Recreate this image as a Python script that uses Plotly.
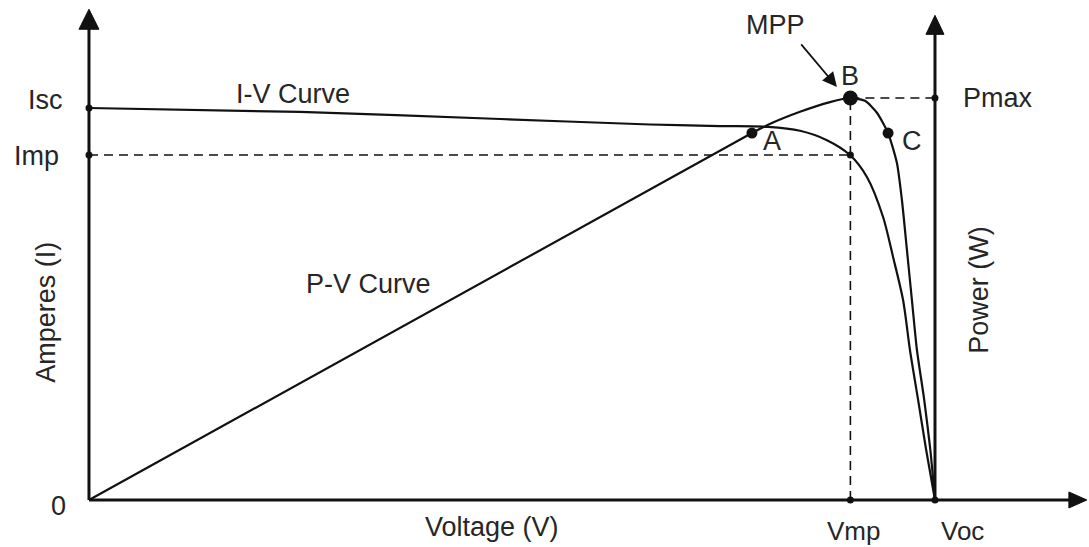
import plotly.graph_objects as go

# ---------------- data (arbitrary schematic units) ----------------
VOC = 22.0      # open-circuit voltage
VMP = 19.8      # voltage at max power
ISC = 5.0       # short-circuit current
IMP = 4.40      # current at max power
PMAX = 87.1     # max power

# I-V curve (voltage, current)
iv_v = [0.0, 5.49, 10.69, 14.59, 16.41, 17.66, 18.49, 19.19, 19.79, 20.23, 20.65, 20.91, 21.17, 21.35, 21.56, 21.77, 22.0]
iv_i = [5.00, 4.95, 4.86, 4.79, 4.77, 4.76, 4.71, 4.59, 4.40, 4.12, 3.61, 3.10, 2.55, 1.91, 1.28, 0.64, 0.0]

# P-V curve (voltage, power)
pv_v = [0.0, 17.24, 17.66, 18.49, 19.27, 19.79, 20.18, 20.49, 20.78, 21.01, 21.14, 21.27, 21.40, 21.53, 21.72, 21.88, 22.0]
pv_p = [0.0, 79.5, 81.3, 84.1, 86.2, 87.1, 86.5, 83.9, 79.5, 73.0, 65.0, 54.2, 43.3, 32.5, 21.7, 10.8, 0.0]

# labelled operating points on the P-V curve
pt_names = ["A", "B", "C"]
pt_v = [17.24, VMP, 20.78]
pt_p = [79.5, PMAX, 79.5]

# axis extents (arrow tips)
X_RANGE = [-2.314, 26.005]
I_RANGE = [-0.600, 6.378]
P_RANGE = [-10.18, 108.33]
I_AXIS_TIP = 6.26
P_AXIS_TIP = 105.0
V_AXIS_TIP = 25.95

INK = "#111111"
TXT = "#262626"
FONT = "Liberation Sans, Arial, sans-serif"
FS = 27

fig = go.Figure()

dash = dict(color=INK, width=1.6, dash="9px,6px")
# dashed guide lines
fig.add_trace(go.Scatter(x=[0, VMP], y=[IMP, IMP], mode="lines", line=dash, yaxis="y", hoverinfo="skip"))
fig.add_trace(go.Scatter(x=[VMP, VMP], y=[0, PMAX], mode="lines", line=dash, yaxis="y2", hoverinfo="skip"))
fig.add_trace(go.Scatter(x=[VMP, VOC], y=[PMAX, PMAX], mode="lines", line=dash, yaxis="y2", hoverinfo="skip"))

# axes lines
fig.add_trace(go.Scatter(x=[0, 0], y=[0, I_AXIS_TIP - 0.2], mode="lines",
                         line=dict(color=INK, width=3), yaxis="y", hoverinfo="skip"))
fig.add_trace(go.Scatter(x=[0, V_AXIS_TIP - 0.4], y=[0, 0], mode="lines",
                         line=dict(color=INK, width=3), yaxis="y", hoverinfo="skip"))
fig.add_trace(go.Scatter(x=[VOC, VOC], y=[0, P_AXIS_TIP - 3], mode="lines",
                         line=dict(color=INK, width=3), yaxis="y2", hoverinfo="skip"))

# curves
fig.add_trace(go.Scatter(x=iv_v, y=iv_i, mode="lines", name="I-V Curve",
                         line=dict(color=INK, width=2.2, shape="spline", smoothing=0.8), yaxis="y"))
fig.add_trace(go.Scatter(x=pv_v, y=pv_p, mode="lines", name="P-V Curve",
                         line=dict(color=INK, width=2.2, shape="spline", smoothing=0.6), yaxis="y2"))

# small dots
fig.add_trace(go.Scatter(x=[0, 0, VMP, VMP, VOC], y=[ISC, IMP, IMP, 0, 0], mode="markers",
                         marker=dict(color=INK, size=7, opacity=1, line=dict(width=0)),
                         yaxis="y", hoverinfo="skip"))
fig.add_trace(go.Scatter(x=[VOC], y=[PMAX], mode="markers",
                         marker=dict(color=INK, size=7, opacity=1, line=dict(width=0)),
                         yaxis="y2", hoverinfo="skip"))
# A, B, C points
fig.add_trace(go.Scatter(x=pt_v, y=pt_p, mode="markers", text=pt_names,
                         marker=dict(color=INK, size=[11, 15, 11], opacity=1, line=dict(width=0)),
                         yaxis="y2"))

shapes = []
# arrowheads (pixel-sized paths anchored at the axis tips)
shapes.append(dict(type="path", xref="x", yref="y", xsizemode="pixel", ysizemode="pixel",
                   xanchor=0, yanchor=I_AXIS_TIP, path="M -10,-20 L 10,-20 L 0,0 Z",
                   fillcolor=INK, line=dict(color=INK, width=1)))
shapes.append(dict(type="path", xref="x", yref="y2", xsizemode="pixel", ysizemode="pixel",
                   xanchor=VOC, yanchor=P_AXIS_TIP, path="M -9,-19 L 9,-19 L 0,0 Z",
                   fillcolor=INK, line=dict(color=INK, width=1)))
shapes.append(dict(type="path", xref="x", yref="y", xsizemode="pixel", ysizemode="pixel",
                   xanchor=V_AXIS_TIP, yanchor=0, path="M 0,0 L -18,-8 L -18,8 Z",
                   fillcolor=INK, line=dict(color=INK, width=1)))

ann = []
def lab(text, x, y, yref="y", xanchor="center", xshift=0, yshift=0, angle=0, size=FS):
    ann.append(dict(text=text, x=x, y=y, xref="x", yref=yref, showarrow=False,
                    xanchor=xanchor, yanchor="middle", xshift=xshift, yshift=yshift,
                    textangle=angle, font=dict(family=FONT, size=size, color=TXT)))

lab("Isc", 0, ISC, xanchor="right", xshift=-24, yshift=8)
lab("Imp", 0, IMP, xanchor="right", xshift=-28, yshift=-1)
lab("0", 0, 0, xanchor="right", xshift=-21, yshift=-6)
lab("Vmp", VMP, 0, xshift=3, yshift=-31, size=26)
lab("Voc", VOC, 0, xshift=28, yshift=-31, size=26)
lab("Pmax", VOC, PMAX, yref="y2", xanchor="left", xshift=26, yshift=0)
lab("MPP", VMP, PMAX, yref="y2", xshift=-75, yshift=73)
lab("B", pt_v[1], pt_p[1], yref="y2", xshift=0, yshift=22)
lab("A", pt_v[0], pt_p[0], yref="y2", xshift=20, yshift=-8)
lab("C", pt_v[2], pt_p[2], yref="y2", xshift=24, yshift=-8)
lab("I-V Curve", 5.30, 5.18)
lab("P-V Curve", 7.26, 2.75)
lab("Voltage (V)", 10.48, -0.34)
lab("Amperes (I)", -1.14, 2.39, angle=-90)
lab("Power (W)", 23.14, 2.68, angle=-90)

# MPP pointer arrow
ann.append(dict(text="", x=19.45, y=89.5, xref="x", yref="y2", showarrow=True,
                ax=-37, ay=-44, arrowhead=2, arrowsize=1.6, arrowwidth=1.8, arrowcolor=INK))

fig.update_layout(
    template="none",
    width=1089, height=547,
    margin=dict(l=0, r=0, t=0, b=0, pad=0),
    paper_bgcolor="white", plot_bgcolor="white",
    showlegend=False,
    xaxis=dict(range=X_RANGE, visible=False, fixedrange=True, domain=[0, 1]),
    yaxis=dict(range=I_RANGE, visible=False, fixedrange=True, domain=[0, 1]),
    yaxis2=dict(range=P_RANGE, visible=False, overlaying="y", fixedrange=True),
    shapes=shapes, annotations=ann,
)

fig.write_html("out.html", config={"displayModeBar": False},
               post_script="document.body.style.margin='0';document.body.style.overflow='hidden';")
